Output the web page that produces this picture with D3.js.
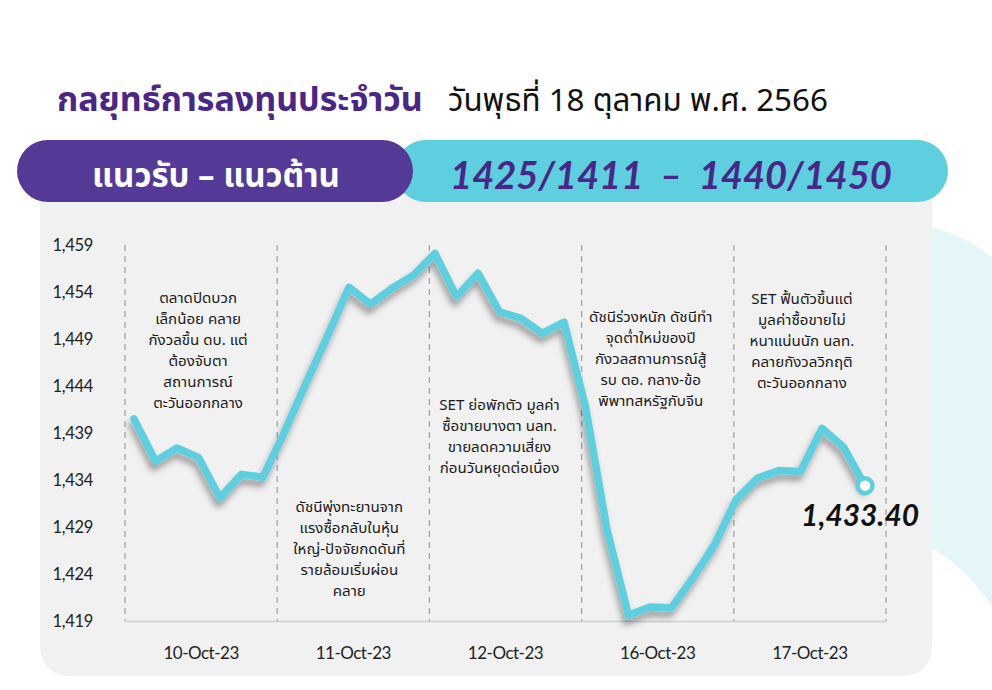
<!DOCTYPE html>
<html>
<head>
<meta charset="utf-8">
<script src="https://cdn.jsdelivr.net/npm/d3@7"></script>
<style>
  html, body { margin: 0; padding: 0; background: #ffffff; }
  svg { display: block; }
</style>
</head>
<body>
<svg id="chart" width="992" height="690"></svg>
<script>
// ---------- DATA ----------
const titleMain = "กลยุทธ์การลงทุนประจำวัน";
const titleDate = "วันพุธที่ 18 ตุลาคม พ.ศ. 2566";
const headerLabel = "แนวรับ – แนวต้าน";
const headerLevels = "1425/1411  –  1440/1450";

const days = ["10-Oct-23", "11-Oct-23", "12-Oct-23", "16-Oct-23", "17-Oct-23"];
const yTicks = [1419, 1424, 1429, 1434, 1439, 1444, 1449, 1454, 1459];

// SET index, 7 intraday readings per day
const setDay1 = [1440.5, 1436.0, 1437.4, 1436.4, 1432.1, 1434.6, 1434.3];
const setDay2 = [1439.1, 1444.3, 1449.3, 1454.5, 1452.7, 1454.4, 1455.8];
const setDay3 = [1458.1, 1453.5, 1456.0, 1451.9, 1451.2, 1449.6, 1450.8];
const setDay4 = [1441.8, 1428.7, 1419.6, 1420.5, 1420.4, 1423.6, 1427.1];
const setDay5 = [1431.9, 1434.2, 1435.0, 1434.9, 1439.5, 1437.5, 1433.4];
const lastLabel = "1,433.40";

const notes = [
  ["ตลาดปิดบวก", "เล็กน้อย คลาย", "กังวลขึ้น ดบ. แต่", "ต้องจับตา", "สถานการณ์", "ตะวันออกกลาง"],
  ["ดัชนีพุ่งทะยานจาก", "แรงซื้อกลับในหุ้น", "ใหญ่-ปัจจัยกดดันที่", "รายล้อมเริ่มผ่อน", "คลาย"],
  ["SET ย่อพักตัว มูลค่า", "ซื้อขายบางตา นลท.", "ขายลดความเสี่ยง", "ก่อนวันหยุดต่อเนื่อง"],
  ["ดัชนีร่วงหนัก ดัชนีทำ", "จุดต่ำใหม่ของปี", "กังวลสถานการณ์สู้", "รบ ตอ. กลาง-ข้อ", "พิพาทสหรัฐกับจีน"],
  ["SET ฟื้นตัวขึ้นแต่", "มูลค่าซื้อขายไม่", "หนาแน่นนัก นลท.", "คลายกังวลวิกฤติ", "ตะวันออกกลาง"]
];

// ---------- LAYOUT ----------
const THAI = "'Noto Sans Thai', 'Noto Sans Thai Looped', 'Noto Looped Thai', Kanit, Prompt, Sarabun, Loma, Garuda, 'Noto Sans', sans-serif";
const LATIN = "'Century Gothic', Lato, 'Noto Sans', sans-serif";
const purple = "#4a2687";
const cyan = "#5dcfdf";

const series = [].concat(setDay1, setDay2, setDay3, setDay4, setDay5);
const svg = d3.select("#chart");

const defs = svg.append("defs");
const f = defs.append("filter").attr("id", "shadow").attr("x", "-10%").attr("y", "-10%").attr("width", "120%").attr("height", "130%");
f.append("feDropShadow").attr("dx", -2).attr("dy", 6).attr("stdDeviation", 3)
  .attr("flood-color", "#000").attr("flood-opacity", 0.35);

// decorative background blob (right)
svg.append("path")
  .attr("d", "M925,226 Q965,234 992,258 L992,606 Q962,562 925,545 Z")
  .attr("fill", "#e5f6f9");

// gray panel
const pX0 = 40, pX1 = 932, pY0 = 190, pY1 = 676, rad = 32;
svg.append("path")
  .attr("d", `M${pX0},${pY0} L${pX1},${pY0} L${pX1},${pY1 - rad} Q${pX1},${pY1} ${pX1 - rad},${pY1} L${pX0 + rad},${pY1} Q${pX0},${pY1} ${pX0},${pY1 - rad} Z`)
  .attr("fill", "#f1f1f1");

// header pills
svg.append("rect").attr("x", 395).attr("y", 140).attr("width", 553).attr("height", 62).attr("rx", 31).attr("fill", cyan);
svg.append("rect").attr("x", 17).attr("y", 140).attr("width", 396).attr("height", 62).attr("rx", 31).attr("fill", "#553996");

function fitWidth(sel, target) {
  const node = sel.node();
  const w = node.getComputedTextLength();
  const fs = parseFloat(sel.attr("font-size"));
  if (w > 0) sel.attr("font-size", fs * target / w);
}

// titles
const t1 = svg.append("text").attr("x", 57).attr("y", 111).text(titleMain)
  .attr("font-family", THAI).attr("font-weight", 700).attr("font-size", 32).attr("fill", purple);
fitWidth(t1, 366);
const t2 = svg.append("text").attr("x", 448).attr("y", 111).text(titleDate)
  .attr("font-family", THAI).attr("font-weight", 400).attr("font-size", 28).attr("fill", "#111");
fitWidth(t2, 380);

const h1 = svg.append("text").attr("x", 216).attr("y", 187).attr("text-anchor", "middle").text(headerLabel)
  .attr("font-family", THAI).attr("font-weight", 700).attr("font-size", 30).attr("fill", "#fff");
fitWidth(h1, 248);
const h2 = svg.append("text").attr("x", 671).attr("y", 189).attr("text-anchor", "middle").text(headerLevels)
  .attr("xml:space", "preserve").style("white-space", "pre")
  .attr("font-family", LATIN).attr("font-weight", 700).attr("font-style", "italic").attr("font-size", 36).attr("fill", purple);
fitWidth(h2, 442);

// ---------- SCALES ----------
const xDay = d3.scaleBand().domain(days).range([125, 886]).padding(0);
const xIdx = d3.scaleLinear().domain([0, series.length - 1]).range([134, 865]);
const y = d3.scaleLinear().domain([1419, 1459]).range([621, 245]);

// dashed dividers
const bounds = days.map(d => xDay(d)).concat([xDay.range()[1]]);
svg.append("g").selectAll("line").data(bounds).join("line")
  .attr("x1", d => d).attr("x2", d => d)
  .attr("y1", y(1459)).attr("y2", y(1419))
  .attr("stroke", "#a0a0a0").attr("stroke-width", 1.2).attr("stroke-dasharray", "6,5");

// baseline
svg.append("line").attr("x1", xDay.range()[0]).attr("x2", xDay.range()[1])
  .attr("y1", y(1419) + 0.5).attr("y2", y(1419) + 0.5)
  .attr("stroke", "#cfcfcf").attr("stroke-width", 1.5);

// y axis
const yAxis = svg.append("g").attr("transform", "translate(100,0)")
  .call(d3.axisLeft(y).tickValues(yTicks).tickSize(0).tickPadding(7).tickFormat(d3.format(",")));
yAxis.select(".domain").remove();
yAxis.selectAll("text").attr("font-family", LATIN).attr("font-size", 16.5).attr("fill", "#222")
  .attr("letter-spacing", "-0.3");

// x axis
const xAxis = svg.append("g").attr("transform", `translate(0,${y(1419) + 18})`)
  .call(d3.axisBottom(xDay).tickSize(0).tickPadding(8));
xAxis.select(".domain").remove();
xAxis.selectAll("text").attr("font-family", LATIN).attr("font-size", 17).attr("fill", "#222")
  .attr("letter-spacing", "-0.5");

// annotations
const noteTop = [298, 507, 405, 317, 299];
const noteDx = [-3, -4, -6, -7, -8];
notes.forEach((lines, i) => {
  const cx = xDay(days[i]) + xDay.bandwidth() / 2 + noteDx[i];
  const g = svg.append("text").attr("text-anchor", "middle")
    .attr("transform", `translate(${cx},0) scale(1.08,1) translate(${-cx},0)`)
    .attr("font-family", THAI).attr("font-size", 14).attr("fill", "#1a1a1a");
  lines.forEach((ln, k) => {
    g.append("tspan").attr("x", cx).attr("y", noteTop[i] + 5 + k * 21).text(ln);
  });
});

// line
const line = d3.line().x((d, i) => xIdx(i)).y(d => y(d)).curve(d3.curveLinear);
svg.append("path").datum(series)
  .attr("d", line).attr("fill", "none")
  .attr("stroke", cyan).attr("stroke-width", 7.5)
  .attr("stroke-linejoin", "round").attr("stroke-linecap", "round")
  .attr("filter", "url(#shadow)");

// last point
const li = series.length - 1;
svg.append("circle").attr("cx", xIdx(li)).attr("cy", y(series[li])).attr("r", 7.5)
  .attr("fill", "#fff").attr("stroke", cyan).attr("stroke-width", 4.5);
const lab = svg.append("text").attr("x", xIdx(li) + 54).attr("y", y(series[li]) + 40)
  .attr("text-anchor", "end").text(lastLabel)
  .attr("font-family", LATIN).attr("font-weight", 700).attr("font-style", "italic")
  .attr("font-size", 26).attr("fill", "#111");
fitWidth(lab, 118);
</script>
</body>
</html>
